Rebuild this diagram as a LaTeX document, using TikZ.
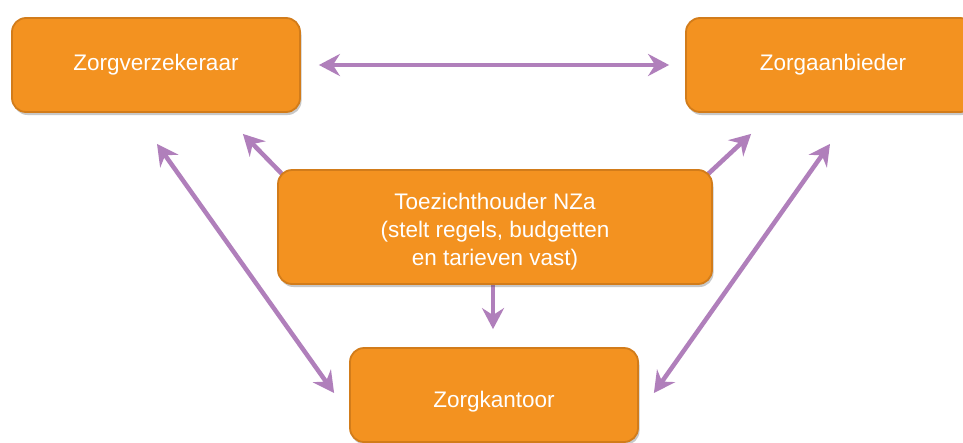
\documentclass[tikz,border=0pt]{standalone}
\usepackage{fontspec}
\setmainfont{Liberation Sans}
\usetikzlibrary{arrows.meta,shadows,calc}
\definecolor{boxfill}{HTML}{F39220}
\definecolor{boxline}{HTML}{D27C1A}
\definecolor{arrowpurple}{HTML}{B07FBB}
\pgfdeclarelayer{bg}
\pgfdeclarelayer{canvas}
\pgfsetlayers{canvas,bg,main}
\tikzset{
  orangebox/.style={rectangle, rounded corners=14pt, fill=boxfill, draw=boxline, line width=1.8pt,
    text=white, font=\fontsize{22.5}{27}\selectfont, align=center, inner sep=0pt,
    drop shadow={opacity=0.3, shadow xshift=1.5pt, shadow yshift=-3pt, fill=black!70}},
  arr/.style={draw=arrowpurple, line width=4.5pt,
    -{Stealth[length=21pt,width=22pt,inset=7pt]}},
  darr/.style={draw=arrowpurple, line width=4.5pt,
    {Stealth[length=21pt,width=22pt,inset=7pt]}-{Stealth[length=21pt,width=22pt,inset=7pt]}}
}
\begin{document}
\begin{tikzpicture}[x=1pt,y=-1pt]
\useasboundingbox (0,0) rectangle (963,442);
\clip (0,0) rectangle (963,442);
\begin{pgfonlayer}{canvas}
\fill[white] (0,0) rectangle (963,442);
\end{pgfonlayer}
\node[orangebox, minimum width=288pt, minimum height=94pt] (zv) at (156,65) {Zorgverzekeraar};
\node[orangebox, minimum width=288pt, minimum height=94pt] (za) at (830,65) {\hspace*{6pt}Zorgaanbieder};
\node[orangebox, minimum width=434pt, minimum height=114pt] (nz) at (495,227) {\renewcommand\arraystretch{1.03}\raisebox{-10pt}[40pt][40pt]{\begin{tabular}{@{}c@{}}Toezichthouder NZa\\(stelt regels, budgetten\\en tarieven vast)\end{tabular}}};
\node[orangebox, minimum width=288pt, minimum height=94pt] (zk) at (494,395) {\raisebox{-12pt}[0pt][0pt]{Zorgkantoor}};
\begin{pgfonlayer}{bg}
\draw[darr] ([shift={(18,0)}]zv.east) -- ([shift={(-16,0)}]za.west);
\draw[darr] ([shift={(1,31)}]zv.south) -- ([shift={(-15,-2)}]zk.west);
\draw[darr] ([shift={(0,31)}]za.south) -- ([shift={(15,-2)}]zk.east);
\draw[arr] ([shift={(6,6)}]nz.north west) -- ([shift={(-58,21)}]zv.south east);
\draw[arr] ([shift={(-6,6)}]nz.north east) -- ([shift={(66,21)}]za.south west);
\draw[arr] ([shift={(-2,0)}]nz.south) -- ([shift={(-1,-18)}]zk.north);
\end{pgfonlayer}
\end{tikzpicture}
\end{document}
